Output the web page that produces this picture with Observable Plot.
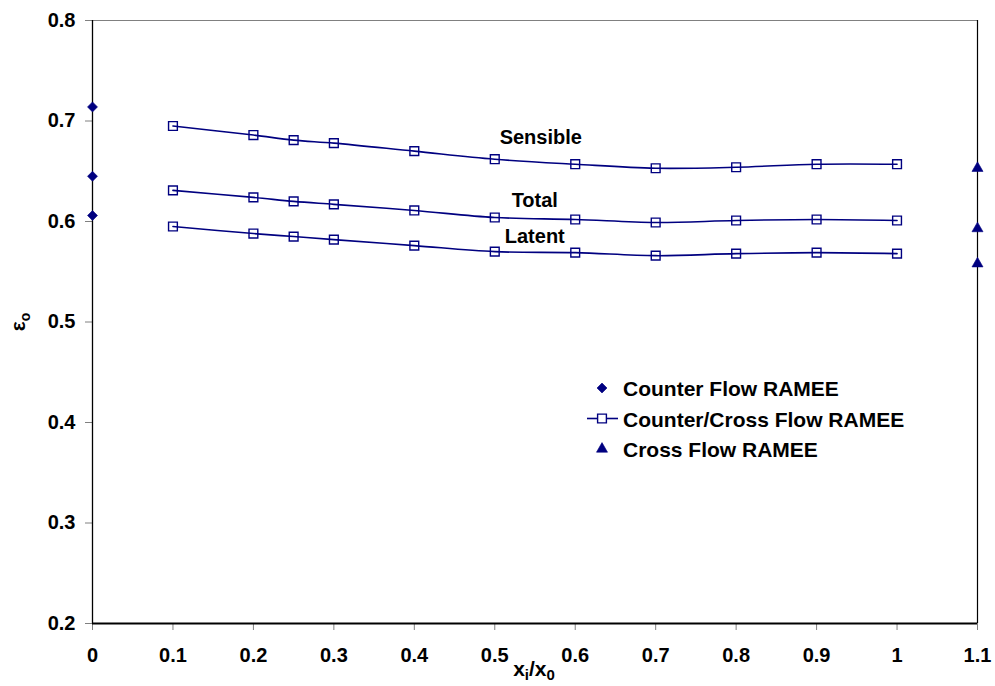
<!DOCTYPE html>
<html>
<head>
<meta charset="utf-8">
<script src="https://cdn.jsdelivr.net/npm/d3@7"></script>
<script src="https://cdn.jsdelivr.net/npm/@observablehq/plot@0.6"></script>
<style>
  html, body { margin: 0; padding: 0; background: #fff; }
  #chart { position: relative; width: 995px; height: 686px; }
</style>
</head>
<body>
<div id="chart"></div>
<script>
// Inlet humidity ratio ratio x_i/x_0 for the counter/cross flow exchanger
const xRatio = [0.1, 0.2, 0.25, 0.3, 0.4, 0.5, 0.6, 0.7, 0.8, 0.9, 1.0];
// Effectiveness of the counter/cross flow RAMEE
const sensible = [0.695, 0.686, 0.681, 0.678, 0.670, 0.662, 0.657, 0.653, 0.654, 0.657, 0.657];
const total    = [0.631, 0.624, 0.620, 0.617, 0.611, 0.604, 0.602, 0.599, 0.601, 0.602, 0.601];
const latent   = [0.595, 0.588, 0.585, 0.582, 0.576, 0.570, 0.569, 0.566, 0.568, 0.569, 0.568];
// Reference exchangers (sensible, total, latent)
const counterFlowX = 0;
const counterFlow = [0.714, 0.645, 0.606];
const crossFlowX = 1.1;
const crossFlow = [0.653, 0.593, 0.558];
// Axes
const xTicks = [0, 0.1, 0.2, 0.3, 0.4, 0.5, 0.6, 0.7, 0.8, 0.9, 1.0, 1.1];
const yTicks = [0.2, 0.3, 0.4, 0.5, 0.6, 0.7, 0.8];
const seriesNames = ["Sensible", "Total", "Latent"];
const legendNames = ["Counter Flow RAMEE", "Counter/Cross Flow RAMEE", "Cross Flow RAMEE"];

const navy = "#000080";
const font = "'Liberation Sans', Arial, sans-serif";

const seriesValues = [sensible, total, latent];
const rows = seriesNames.flatMap((name, i) =>
  xRatio.map((x, j) => ({series: name, x, y: seriesValues[i][j]})));
const counterRows = counterFlow.map(y => ({x: counterFlowX, y}));
const crossRows = crossFlow.map(y => ({x: crossFlowX, y}));

const xDomain = [xTicks[0], xTicks[xTicks.length - 1]];
const yDomain = [yTicks[0], yTicks[yTicks.length - 1]];

// label offsets (pixels) from each curve's point at x = 0.5
const labelOffsets = {Sensible: [46, -22], Total: [40, -17], Latent: [40, -15]};

const plot = Plot.plot({
  width: 995,
  height: 686,
  marginLeft: 92,
  marginRight: 18,
  marginTop: 20,
  marginBottom: 63,
  style: {fontFamily: font, fontWeight: "bold", fontSize: "20px", color: "#000", background: "#fff"},
  x: {domain: xDomain, label: null},
  y: {domain: yDomain, label: null},
  marks: [
    Plot.ruleY([yDomain[1]], {stroke: "#808080", strokeWidth: 1.2}),
    Plot.ruleX([xDomain[1]], {stroke: "#000", strokeWidth: 1.2}),
    Plot.axisY({ticks: yTicks, tickFormat: d3.format(".1f"), tickSize: 7, tickPadding: 10,
      stroke: "#808080", fill: "#000", fontSize: 20, fontWeight: "bold", label: null}),
    Plot.axisX({ticks: xTicks, tickFormat: d3.format("~g"), tickSize: 7, tickPadding: 17,
      stroke: "#808080", fill: "#000", fontSize: 20, fontWeight: "bold", label: null}),
    Plot.ruleX([xDomain[0]], {stroke: "#000", strokeWidth: 1.3}),
    Plot.ruleY([yDomain[0]], {stroke: "#000", strokeWidth: 2}),
    Plot.line(rows, {x: "x", y: "y", z: "series", stroke: navy, strokeWidth: 1.6, curve: "catmull-rom"}),
    Plot.dot(rows, {x: "x", y: "y", symbol: "square2", r: 5.6, stroke: navy, strokeWidth: 1.4, fill: "none"}),
    Plot.dot(counterRows, {x: "x", y: "y", symbol: "diamond2", r: 4.5, fill: navy, stroke: navy, strokeWidth: 0.6}),
    Plot.dot(crossRows, {x: "x", y: "y", symbol: "triangle", r: 4.1, fill: navy, stroke: navy, strokeWidth: 0.6}),
    ...seriesNames.map(name => Plot.text(rows.filter(d => d.series === name && d.x === 0.5), {
      x: "x", y: "y", text: "series", dx: labelOffsets[name][0], dy: labelOffsets[name][1],
      fontSize: 20, fontWeight: "bold", fill: "#000", textAnchor: "middle"
    }))
  ]
});

document.getElementById("chart").appendChild(plot);

const svg = d3.select(plot);

// x-axis title with subscripts
const xt = svg.append("text")
  .attr("x", 534).attr("y", 676)
  .attr("text-anchor", "middle")
  .style("font-family", font).style("font-weight", "bold").style("font-size", "21px")
  .attr("fill", "#000");
xt.append("tspan").text("x");
xt.append("tspan").attr("dy", 4).style("font-size", "15px").text("i");
xt.append("tspan").attr("dy", -4).text("/x");
xt.append("tspan").attr("dy", 4).style("font-size", "15px").text("0");

// y-axis title ε with subscript o
const yt = svg.append("text")
  .attr("transform", "translate(25,322) rotate(-90)")
  .attr("text-anchor", "middle")
  .style("font-family", font).style("font-weight", "bold").style("font-size", "21px")
  .attr("fill", "#000");
yt.append("tspan").text("ε");
yt.append("tspan").attr("dy", 5).style("font-size", "14px").text("o");

// legend
const lg = svg.append("g").attr("transform", "translate(602,388)")
  .attr("text-anchor", "start")
  .style("font-family", font).style("font-weight", "bold").style("font-size", "21px");
const sym = (type, r) => d3.symbol(type, Math.PI * r * r)();
const items = lg.selectAll("g").data(legendNames).join("g")
  .attr("transform", (d, i) => `translate(0,${i * 30.5})`);
items.filter((d, i) => i === 1).append("line")
  .attr("x1", -15).attr("x2", 16).attr("stroke", navy).attr("stroke-width", 1.6);
items.append("path")
  .attr("d", (d, i) => i === 0 ? sym(d3.symbolDiamond2, 4.5) : i === 1 ? sym(d3.symbolSquare2, 5.6) : sym(d3.symbolTriangle, 4.1))
  .attr("fill", (d, i) => i === 1 ? "#fff" : navy)
  .attr("stroke", navy)
  .attr("stroke-width", (d, i) => i === 1 ? 1.4 : 0.6);
items.append("text")
  .attr("x", 21).attr("y", 8)
  .attr("text-anchor", "start")
  .attr("fill", "#000")
  .text(d => d);
</script>
</body>
</html>
